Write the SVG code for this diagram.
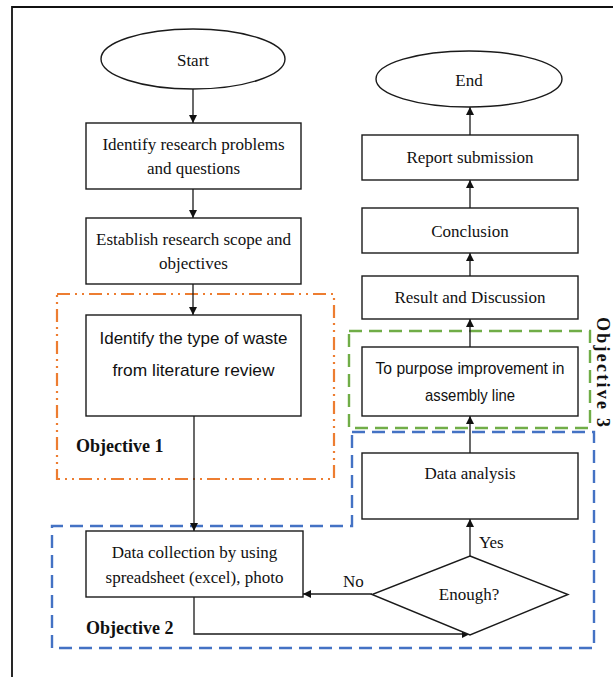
<svg xmlns="http://www.w3.org/2000/svg" width="613" height="677" viewBox="0 0 613 677">
<style>
.bg{fill:#ffffff}
.node{fill:#ffffff;stroke:#1a1a1a;stroke-width:1.4}
.t{font-family:"Liberation Serif","Times New Roman",serif;font-size:17px;fill:#111;text-anchor:middle}
.s{font-family:"Liberation Sans",Arial,sans-serif;font-size:17px;fill:#111;text-anchor:middle}
.lbl{font-family:"Liberation Serif","Times New Roman",serif;font-size:18px;font-weight:bold;fill:#111}
.edge{fill:none;stroke:#1a1a1a;stroke-width:1.3}
.obj1{fill:none;stroke:#ED7D31;stroke-width:2.2;stroke-dasharray:13 5 2 5 2 5}
.obj2{fill:none;stroke:#4472C4;stroke-width:2.4;stroke-dasharray:13 7}
.obj3{fill:none;stroke:#70AD47;stroke-width:2.4;stroke-dasharray:13 7}
</style>
<defs>
<marker id="arr" viewBox="0 0 10 10" refX="10" refY="5" markerWidth="8" markerHeight="8" markerUnits="userSpaceOnUse" orient="auto">
<path d="M0,0 L10,5 L0,10 Z" fill="#111"/>
</marker>
</defs>
<rect class="bg" x="0" y="0" width="613" height="677"/>
<path d="M12,680 L12,7 L616,7" fill="none" stroke="#111" stroke-width="1.8"/>

<g id="objective-groups">
<rect class="obj1" x="57" y="294" width="277" height="185"/>
<rect class="obj3" x="349" y="331" width="241" height="97"/>
<path class="obj2" d="M352,432 L594,432 L594,648 L52,648 L52,526 L352,526 Z"/>
<text class="lbl" x="76" y="452">Objective 1</text>
<text class="lbl" x="86" y="634">Objective 2</text>
<text class="lbl" transform="translate(597,317) rotate(90)" x="0" y="0" textLength="110" lengthAdjust="spacing">Objective 3</text>
</g>

<g id="connectors">
<line class="edge" x1="193" y1="89" x2="193" y2="123" marker-end="url(#arr)"/>
<line class="edge" x1="193" y1="189" x2="193" y2="218" marker-end="url(#arr)"/>
<line class="edge" x1="193" y1="284" x2="193" y2="315" marker-end="url(#arr)"/>
<line class="edge" x1="194" y1="416" x2="194" y2="531" marker-end="url(#arr)"/>
<path class="edge" d="M194,597 L194,634 L470,634" marker-end="url(#arr)"/>
<line class="edge" x1="372" y1="594" x2="303" y2="594" marker-end="url(#arr)"/>
<line class="edge" x1="470" y1="556" x2="470" y2="519" marker-end="url(#arr)"/>
<line class="edge" x1="470" y1="453" x2="470" y2="416" marker-end="url(#arr)"/>
<line class="edge" x1="470" y1="347" x2="470" y2="319" marker-end="url(#arr)"/>
<line class="edge" x1="470" y1="276" x2="470" y2="253" marker-end="url(#arr)"/>
<line class="edge" x1="470" y1="208" x2="470" y2="180" marker-end="url(#arr)"/>
<line class="edge" x1="470" y1="135" x2="470" y2="107" marker-end="url(#arr)"/>
<text class="t" x="343" y="587" style="text-anchor:start">No</text>
<text class="t" x="479" y="548" style="text-anchor:start">Yes</text>
</g>

<g id="start">
<ellipse class="node" cx="193" cy="59" rx="92" ry="30"/>
<text class="t" x="193" y="66">Start</text>
</g>
<g id="identify-problems">
<rect class="node" x="86" y="123" width="215" height="66"/>
<text class="t" x="193.5" y="150">Identify research problems</text>
<text class="t" x="193.5" y="174">and questions</text>
</g>
<g id="establish-scope">
<rect class="node" x="86" y="218" width="215" height="66"/>
<text class="t" x="193.5" y="245">Establish research scope and</text>
<text class="t" x="193.5" y="269">objectives</text>
</g>
<g id="identify-waste">
<rect class="node" x="86" y="315" width="215" height="101"/>
<text class="s" x="193.5" y="344" textLength="188" lengthAdjust="spacingAndGlyphs">Identify the type of waste</text>
<text class="s" x="193.5" y="376" textLength="162" lengthAdjust="spacingAndGlyphs">from literature review</text>
</g>
<g id="data-collection">
<rect class="node" x="86" y="531" width="217" height="66"/>
<text class="t" x="194.5" y="558">Data collection by using</text>
<text class="t" x="194.5" y="583">spreadsheet (excel), photo</text>
</g>
<g id="enough">
<polygon class="node" points="470,556 568,594.5 470,635 372,594.5"/>
<text class="t" x="469" y="600">Enough?</text>
</g>
<g id="data-analysis">
<rect class="node" x="362" y="453" width="216" height="66"/>
<text class="t" x="470" y="479">Data analysis</text>
</g>
<g id="improvement">
<rect class="node" x="362" y="347" width="216" height="69"/>
<text class="s" x="470" y="374" textLength="189" lengthAdjust="spacingAndGlyphs">To purpose improvement in</text>
<text class="s" x="470" y="401" textLength="90" lengthAdjust="spacingAndGlyphs">assembly line</text>
</g>
<g id="result">
<rect class="node" x="362" y="276" width="216" height="43"/>
<text class="t" x="470" y="303">Result and Discussion</text>
</g>
<g id="conclusion">
<rect class="node" x="362" y="208" width="216" height="45"/>
<text class="t" x="470" y="237">Conclusion</text>
</g>
<g id="report">
<rect class="node" x="362" y="135" width="216" height="45"/>
<text class="t" x="470" y="163">Report submission</text>
</g>
<g id="end">
<ellipse class="node" cx="469" cy="79" rx="93" ry="28"/>
<text class="t" x="469" y="86">End</text>
</g>
</svg>
